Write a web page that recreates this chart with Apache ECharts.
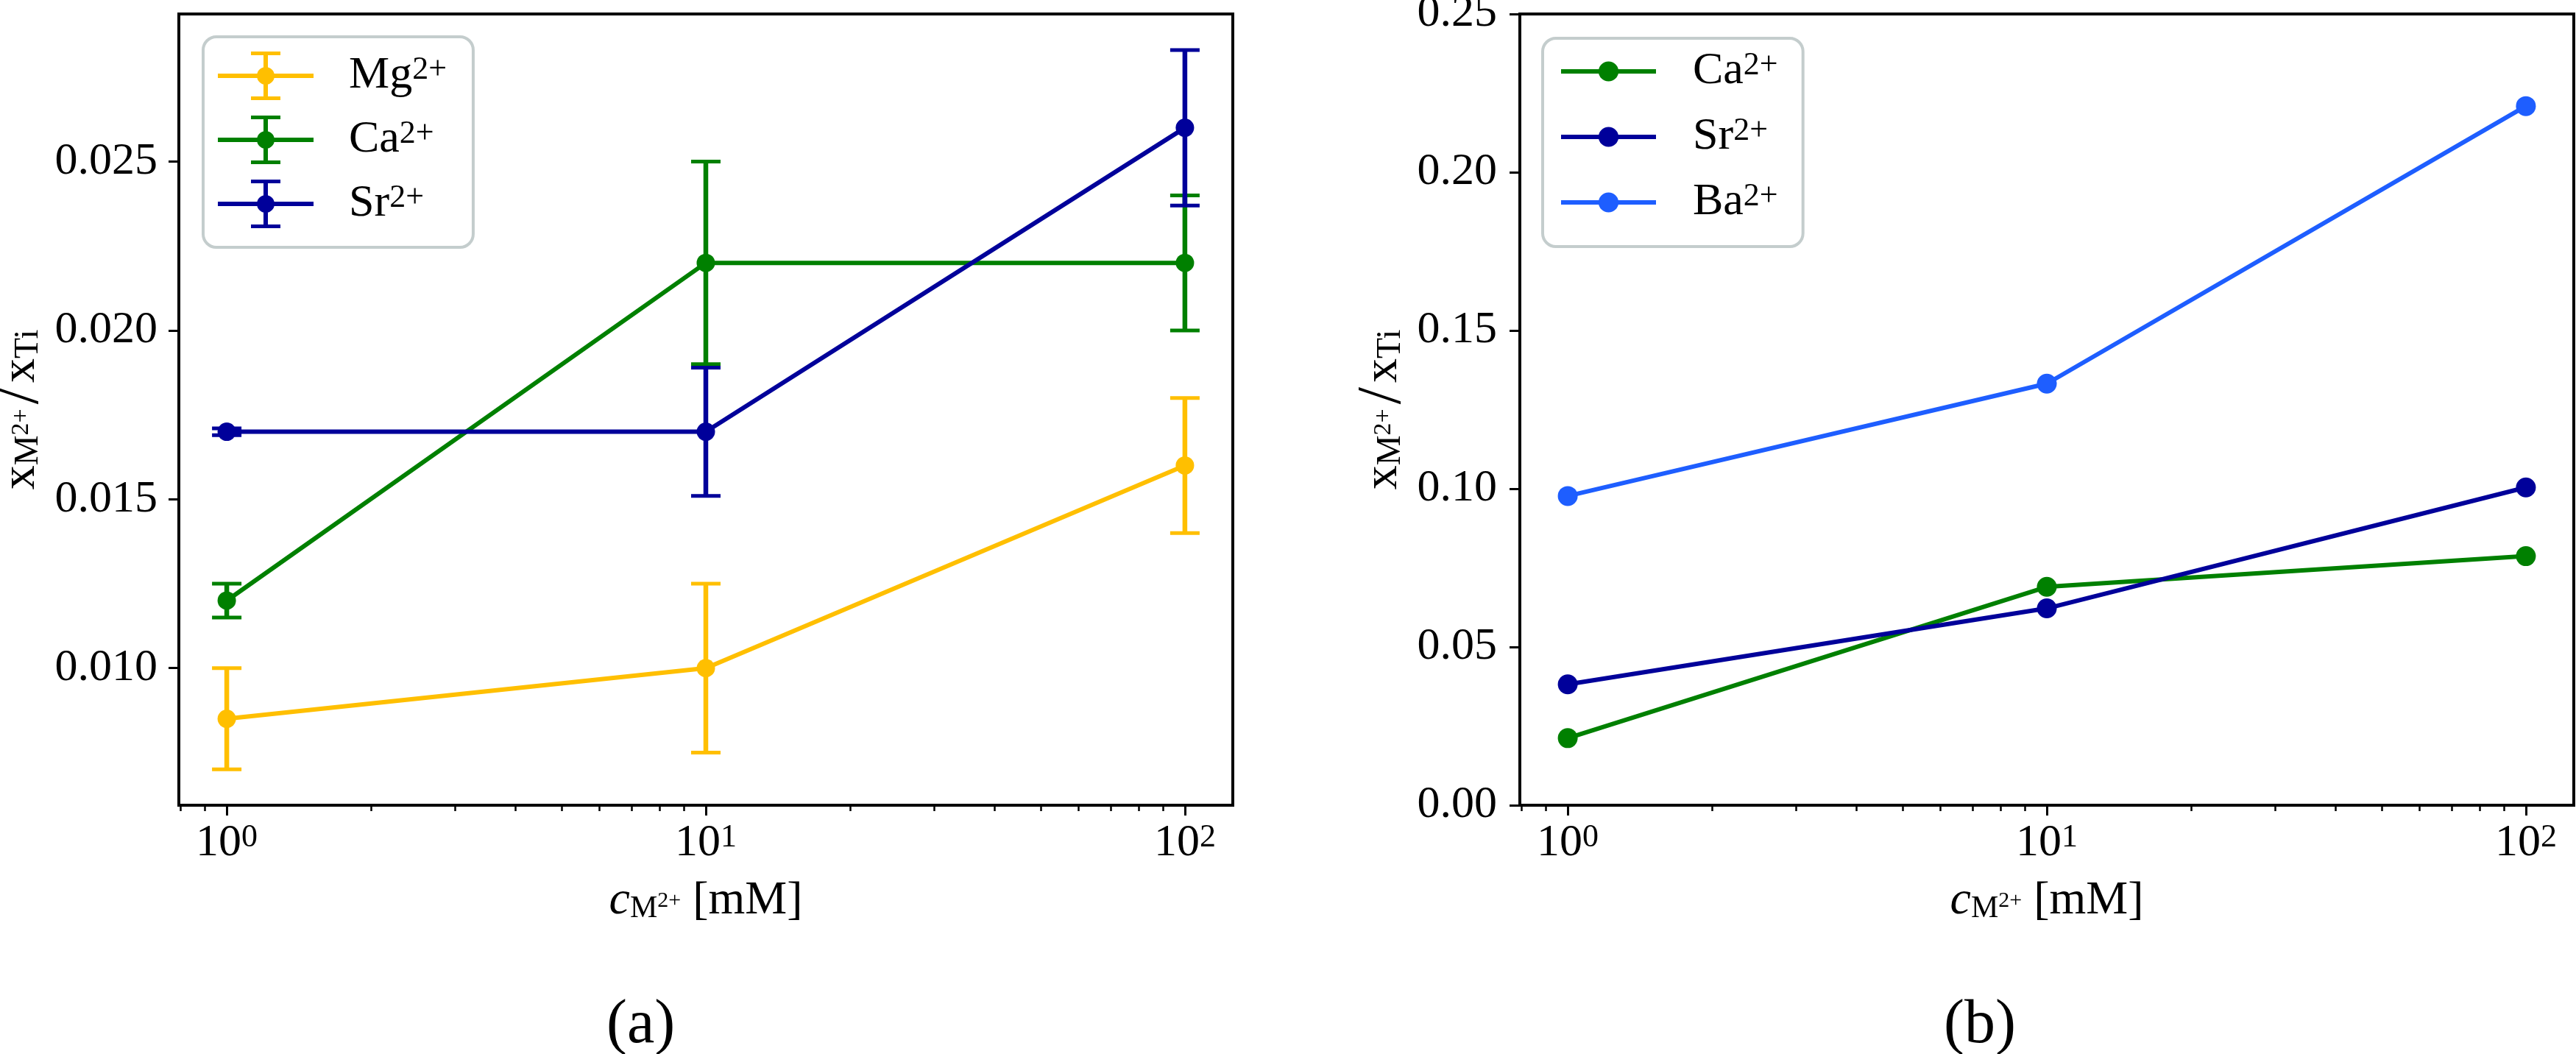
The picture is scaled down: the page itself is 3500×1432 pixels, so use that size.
<!DOCTYPE html>
<html>
<head>
<meta charset="utf-8">
<title>x_M2+/x_Ti vs c_M2+</title>
<script src="https://cdn.jsdelivr.net/npm/echarts@6.0.0/dist/echarts.min.js"></script>
<style>
html, body { margin: 0; padding: 0; background: #fff; }
#chart { width: 3500px; height: 1432px; }
</style>
</head>
<body>
<div id="chart"></div>
<script>
// concentrations in mM, same for both panels
const concentrations = [1, 10, 100];

// panel (a): mean ratio and error
const mgValues = [0.0085, 0.010, 0.016];
const mgErrors = [0.0015, 0.0025, 0.002];
const caValues = [0.012, 0.022, 0.022];
const caErrors = [0.0005, 0.003, 0.002];
const srValues = [0.017, 0.017, 0.026];
const srErrors = [0.0001, 0.0019, 0.0023];

// panel (b)
const caValuesB = [0.0212, 0.069, 0.0787];
const srValuesB = [0.0382, 0.0622, 0.1004];
const baValuesB = [0.0977, 0.1332, 0.2209];

// ticks
const yTicksA = [0.010, 0.015, 0.020, 0.025];
const xMajorTicks = [1, 10, 100];
const xMinorTicks = [0.8, 0.9, 2, 3, 4, 5, 6, 7, 8, 9, 20, 30, 40, 50, 60, 70, 80, 90];

const FONT = 'Liberation Serif';
const MG = '#FFBF00', CA = '#008000', SR = '#00009A', BA = '#1E5EFF';

const pairs = vals => concentrations.map((c, i) => [c, vals[i]]);
const bars = (vals, errs) => concentrations.map((c, i) => [c, vals[i] - errs[i], vals[i] + errs[i]]);

const supRich = {
  sup: { fontFamily: FONT, fontSize: 44, lineHeight: 30, verticalAlign: 'top', color: '#000' }
};
const xNameRich = {
  it: { fontFamily: FONT, fontSize: 64, fontStyle: 'italic', color: '#000' },
  sub: { fontFamily: FONT, fontSize: 42, lineHeight: 34, verticalAlign: 'bottom', color: '#000' },
  ssup: { fontFamily: FONT, fontSize: 30, color: '#000' }
};
const yNameRich = {
  sub: { fontFamily: FONT, fontSize: 46, lineHeight: 36, verticalAlign: 'bottom', color: '#000' },
  ssup: { fontFamily: FONT, fontSize: 34, color: '#000' },
  sl: { fontFamily: FONT, fontSize: 84, padding: [0, 6, 0, 6], color: '#000' }
};
const tickLine = { color: '#000', width: 3 };

function xAxesFor(gridIndex) {
  return [
    { type: 'log', gridIndex, logBase: 10, min: Math.pow(10, -0.1), max: Math.pow(10, 2.1), show: false },
    {
      type: 'value', gridIndex, position: 'bottom', min: -0.1, max: 2.1,
      axisLine: { show: false, onZero: false }, splitLine: { show: false },
      axisTick: { show: true, customValues: xMajorTicks.map(Math.log10), length: 14, lineStyle: tickLine },
      axisLabel: {
        customValues: xMajorTicks.map(Math.log10), margin: 22,
        fontFamily: FONT, fontSize: 62, lineHeight: 60, color: '#000',
        formatter: v => '10{sup|' + Math.round(v) + '}', rich: supRich
      },
      name: '{it|c}{sub|M}{ssup|2+} [mM]', nameLocation: 'middle', nameGap: 98,
      nameTextStyle: { fontFamily: FONT, fontSize: 64, lineHeight: 64, color: '#000', rich: xNameRich }
    },
    {
      type: 'value', gridIndex, position: 'bottom', min: -0.1, max: 2.1,
      axisLine: { show: false, onZero: false }, splitLine: { show: false }, axisLabel: { show: false },
      axisTick: { show: true, customValues: xMinorTicks.map(Math.log10), length: 8, lineStyle: { color: '#000', width: 2.5 } }
    }
  ];
}

const yName = 'x{sub|M}{ssup|2+}{sl|/}x{sub|Ti}';
const yNameStyle = { fontFamily: FONT, fontSize: 66, lineHeight: 66, color: '#000', rich: yNameRich };

function lineSeries(name, xi, yi, vals, color, size, z) {
  return {
    name, type: 'line', xAxisIndex: xi, yAxisIndex: yi, data: pairs(vals), z,
    symbol: 'circle', symbolSize: size, color,
    lineStyle: { color, width: 6 },
    itemStyle: { color, borderWidth: 0 }
  };
}

function errorSeries(name, vals, errs, color, z) {
  return {
    name, type: 'custom', xAxisIndex: 0, yAxisIndex: 0, z,
    data: bars(vals, errs),
    encode: { x: 0, y: [1, 2] },
    renderItem: (params, api) => {
      const lo = api.coord([api.value(0), api.value(1)]);
      const hi = api.coord([api.value(0), api.value(2)]);
      const cap = { stroke: color, lineWidth: 5 };
      return {
        type: 'group', children: [
          { type: 'line', shape: { x1: lo[0], y1: lo[1], x2: hi[0], y2: hi[1] }, style: { stroke: color, lineWidth: 6.5 } },
          { type: 'line', shape: { x1: hi[0] - 20, y1: hi[1], x2: hi[0] + 20, y2: hi[1] }, style: cap },
          { type: 'line', shape: { x1: lo[0] - 20, y1: lo[1], x2: lo[0] + 20, y2: lo[1] }, style: cap }
        ]
      };
    }
  };
}

const errIcon = 'path://M0,30L130,30L130,36L0,36Z M62,0L68,0L68,66L62,66Z ' +
  'M45,0L85,0L85,5L45,5Z M45,61L85,61L85,66L45,66Z M53,33A12,12 0 0,1 77,33A12,12 0 0,1 53,33Z';

const legendText = {
  fontFamily: FONT, fontSize: 62, lineHeight: 60, color: '#000', rich: supRich
};
const legendBox = {
  orient: 'vertical', align: 'left', selectedMode: false,
  backgroundColor: '#fff', borderColor: '#c4cdcd', borderWidth: 4, borderRadius: 18,
  itemStyle: { borderWidth: 0 },
  lineStyle: { width: 6 },
  formatter: name => name.split('-')[1] + '{sup|2+}'
};

const option = {
  animation: false,
  backgroundColor: '#fff',
  grid: [
    { left: 243, top: 19, width: 1432, height: 1075, show: true, borderColor: '#000', borderWidth: 4, outerBoundsMode: 'none' },
    { left: 2065, top: 19, width: 1432, height: 1075, show: true, borderColor: '#000', borderWidth: 4, outerBoundsMode: 'none' }
  ],
  xAxis: xAxesFor(0).concat(xAxesFor(1)),
  yAxis: [
    {
      type: 'value', gridIndex: 0, min: 0.00594, max: 0.02937,
      axisLine: { show: false, onZero: false }, splitLine: { show: false },
      axisTick: { show: true, customValues: yTicksA, length: 14, lineStyle: tickLine },
      axisLabel: { customValues: yTicksA, margin: 29, fontFamily: FONT, fontSize: 62, color: '#000', formatter: v => v.toFixed(3) },
      name: yName, nameLocation: 'middle', nameRotate: 90, nameGap: 174, nameTextStyle: yNameStyle
    },
    {
      type: 'value', gridIndex: 1, min: 0, max: 0.25, interval: 0.05,
      axisLine: { show: false, onZero: false }, splitLine: { show: false },
      axisTick: { show: true, length: 14, lineStyle: tickLine },
      axisLabel: { margin: 31, fontFamily: FONT, fontSize: 62, color: '#000', formatter: v => v.toFixed(2) },
      name: yName, nameLocation: 'middle', nameRotate: 90, nameGap: 141, nameTextStyle: yNameStyle
    }
  ],
  legend: [
    Object.assign({}, legendBox, {
      left: 276, top: 50, padding: [20, 36, 26, 20], itemGap: 21,
      itemWidth: 130, itemHeight: 66,
      textStyle: Object.assign({ padding: [0, 0, 0, 43] }, legendText),
      data: [
        { name: 'a-Mg', icon: errIcon },
        { name: 'a-Ca', icon: errIcon },
        { name: 'a-Sr', icon: errIcon }
      ]
    }),
    Object.assign({}, legendBox, {
      left: 2096, top: 52, padding: [14, 34, 29, 22], itemGap: 27,
      itemWidth: 129, itemHeight: 34,
      textStyle: Object.assign({ padding: [0, 0, 0, 45] }, legendText),
      data: ['b-Ca', 'b-Sr', 'b-Ba']
    })
  ],
  title: [
    { text: '(a)', left: 824, top: 1352, padding: 0, textStyle: { fontFamily: FONT, fontSize: 84, fontWeight: 'normal', color: '#000', lineHeight: 84 } },
    { text: '(b)', left: 2641, top: 1352, padding: 0, textStyle: { fontFamily: FONT, fontSize: 84, fontWeight: 'normal', color: '#000', lineHeight: 84 } }
  ],
  series: [
    errorSeries('a-Mg err', mgValues, mgErrors, MG, 2),
    lineSeries('a-Mg', 0, 0, mgValues, MG, 25, 3),
    errorSeries('a-Ca err', caValues, caErrors, CA, 4),
    lineSeries('a-Ca', 0, 0, caValues, CA, 25, 5),
    errorSeries('a-Sr err', srValues, srErrors, SR, 6),
    lineSeries('a-Sr', 0, 0, srValues, SR, 25, 7),
    lineSeries('b-Ca', 3, 1, caValuesB, CA, 27, 3),
    lineSeries('b-Sr', 3, 1, srValuesB, SR, 27, 4),
    lineSeries('b-Ba', 3, 1, baValuesB, BA, 27, 5)
  ]
};

const chart = echarts.init(document.getElementById('chart'));
chart.setOption(option);
</script>
</body>
</html>
